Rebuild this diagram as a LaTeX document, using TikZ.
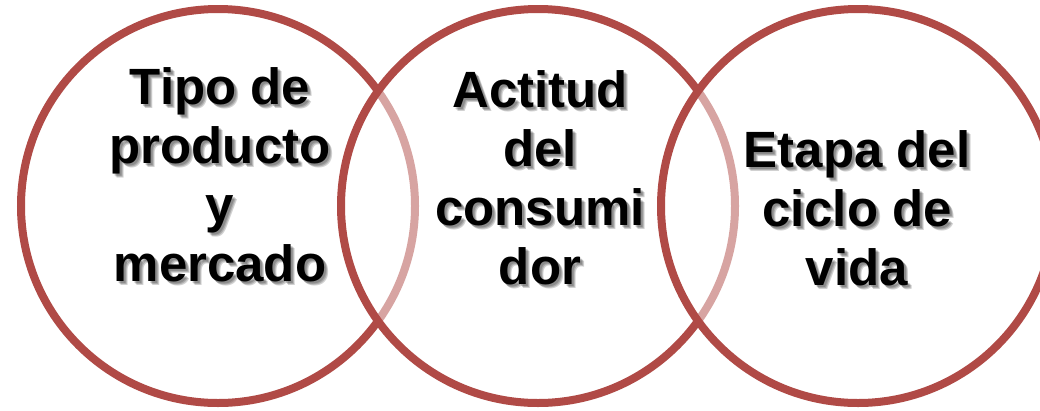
\documentclass[tikz,border=0pt]{standalone}
\usepackage{fontspec}
\setmainfont{Liberation Sans}
\definecolor{vred}{HTML}{B04A46}
\begin{document}
\begin{tikzpicture}[x=1pt,y=-1pt,
  ring/.style={line width=8pt, draw=vred, fill=white, fill opacity=0.5, draw opacity=1},
  txt/.style={align=center, inner sep=0pt, font=\fontsize{51}{59}\selectfont\bfseries, text=black},
  shd/.style={txt, text=black, text opacity=0.18}]
\useasboundingbox (0,0) rectangle (1040,410);
\clip (0,0) rectangle (1040,410);
\fill[white] (0,0) rectangle (1040,410);
\draw[ring] (218,206) circle (197);
\draw[ring] (538,206) circle (197);
\draw[ring] (858,206) circle (197);
% soft text shadows
\foreach \d in {2,3,4}{
  \node[shd] (s1\d) at (220+\d,174.5+\d) {Tipo de\\producto\\y\\mercado};
  \node[shd] (s2\d) at (540+\d,178+\d) {Actitud\\del\\consumi\\dor};
  \node[shd] (s3\d) at (857+\d,208.5+\d) {Etapa del\\ciclo de\\vida};
}
% texts
\node[txt] (t1) at (220,174.5) {Tipo de\\producto\\y\\mercado};
\node[txt] (t2) at (540,178) {Actitud\\del\\consumi\\dor};
\node[txt] (t3) at (857,208.5) {Etapa del\\ciclo de\\vida};
\end{tikzpicture}
\end{document}
